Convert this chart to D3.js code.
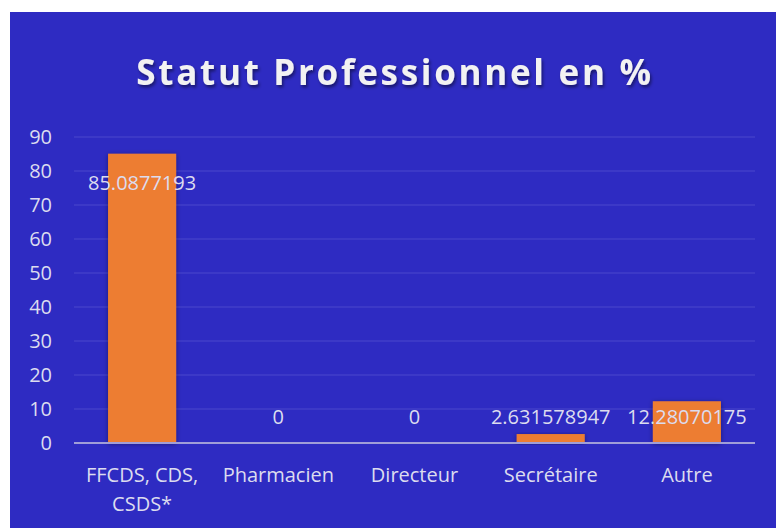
<!DOCTYPE html>
<html><head><meta charset="utf-8">
<script src="https://cdn.jsdelivr.net/npm/d3@7"></script>
<style>body{margin:0;background:#fff;}svg{display:block;}</style>
</head><body>
<svg id="chart" width="776" height="528"></svg>
<script>
const categories = ["FFCDS, CDS, CSDS*", "Pharmacien", "Directeur", "Secrétaire", "Autre"];
const values = [85.0877193, 0, 0, 2.631578947, 12.28070175];
const labels = ["85.0877193", "0", "0", "2.631578947", "12.28070175"];
const yTicks = [0, 10, 20, 30, 40, 50, 60, 70, 80, 90];
const title = "Statut Professionnel en %";

const svg = d3.select("#chart");
const defs = svg.append("defs");
const f = defs.append("filter").attr("id","tshadow").attr("x","-10%").attr("y","-30%").attr("width","120%").attr("height","160%");
f.append("feDropShadow").attr("dx",1.5).attr("dy",2.5).attr("stdDeviation",1.8).attr("flood-color","#000").attr("flood-opacity",0.45);
const fb = defs.append("filter").attr("id","bshadow").attr("x","-20%").attr("y","-20%").attr("width","140%").attr("height","140%");
fb.append("feDropShadow").attr("dx",0).attr("dy",1).attr("stdDeviation",2.5).attr("flood-color","#000").attr("flood-opacity",0.4);

svg.append("rect").attr("x",10).attr("y",12).attr("width",766).attr("height",516).attr("fill","#2e2bc2");

svg.append("text").attr("x",395).attr("y",85).attr("text-anchor","middle")
  .attr("font-family","Open Sans, sans-serif").attr("font-weight","bold").attr("font-size",35)
  .attr("letter-spacing",2.7).attr("fill","#f2f2f2").attr("filter","url(#tshadow)").text(title);

const x = d3.scaleBand().domain(categories).range([74,755]).paddingInner(0.5).paddingOuter(0.25);
const y = d3.scaleLinear().domain([0,90]).range([443,137]);

const grid = svg.append("g");
grid.selectAll("line").data(yTicks.filter(d=>d>0)).join("line")
  .attr("x1",74).attr("x2",755).attr("y1",d=>y(d)).attr("y2",d=>y(d))
  .attr("stroke","#4b48cc").attr("stroke-width",1.2);

const yAxis = d3.axisLeft(y).tickValues(yTicks).tickSize(0).tickPadding(0);
const ya = svg.append("g").attr("transform","translate(52,0)").call(yAxis);
ya.select(".domain").remove();
ya.selectAll("text").attr("font-family","Open Sans, sans-serif").attr("font-size",20).attr("fill","#dcdcef");

svg.append("g").selectAll("rect").data(values).join("rect")
  .attr("x",(d,i)=>x(categories[i])).attr("width",x.bandwidth())
  .attr("y",d=>y(d)).attr("height",d=>y(0)-y(d))
  .attr("fill","#ed7d31").attr("filter","url(#bshadow)");

svg.append("line").attr("x1",74).attr("x2",755).attr("y1",y(0)).attr("y2",y(0))
  .attr("stroke","#a09ed8").attr("stroke-width",2);

svg.append("g").selectAll("text").data(values).join("text")
  .attr("x",(d,i)=>x(categories[i])+x.bandwidth()/2)
  .attr("y",(d,i)=> i===0 ? y(d)+36 : y(0)-19)
  .attr("text-anchor","middle").attr("font-family","Open Sans, sans-serif").attr("font-size",20)
  .attr("fill","#dcdcef").text((d,i)=>labels[i]);

const xa = svg.append("g");
categories.forEach((c,i)=>{
  const cx = x(c)+x.bandwidth()/2;
  const t = xa.append("text").attr("text-anchor","middle").attr("font-family","Open Sans, sans-serif")
    .attr("font-size",20).attr("fill","#dcdcef");
  const lines = c === "FFCDS, CDS, CSDS*" ? ["FFCDS, CDS,","CSDS*"] : [c];
  lines.forEach((l,j)=>t.append("tspan").attr("x",cx).attr("y",482+j*29).text(l));
});
</script>
</body></html>
